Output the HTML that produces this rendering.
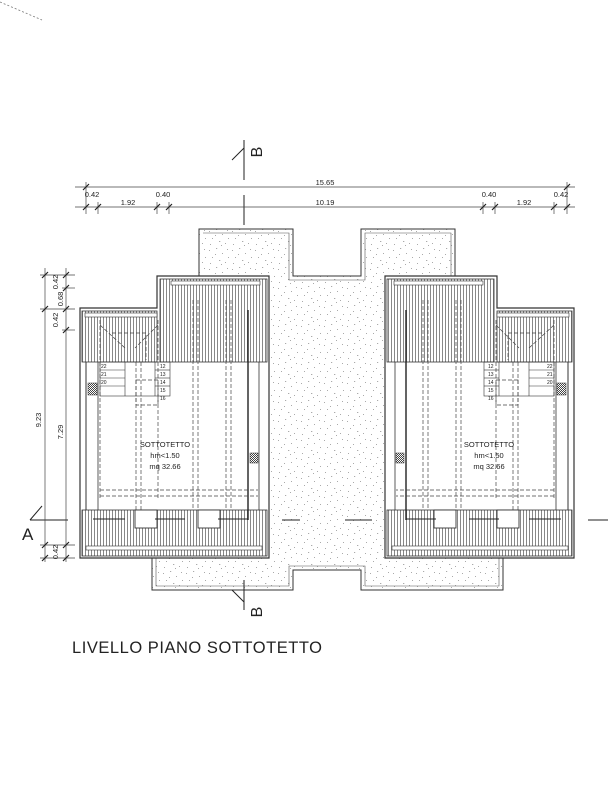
<!DOCTYPE html>
<html><head><style>
html,body{margin:0;padding:0;background:#fff}
svg{display:block}
text{font-family:"Liberation Sans",sans-serif;fill:#222}
</style></head><body>
<svg width="608" height="800" viewBox="0 0 608 800" xmlns="http://www.w3.org/2000/svg">
<defs>
<pattern id="vh" width="3" height="10" patternUnits="userSpaceOnUse"><rect width="3" height="10" fill="#fff"/><line x1="1.5" y1="0" x2="1.5" y2="10" stroke="#555" stroke-width="0.7"/></pattern>
<pattern id="st" width="23" height="19" patternUnits="userSpaceOnUse">
<rect width="23" height="19" fill="#fff"/>
<g fill="#aaa"><rect x="2" y="3" width="1" height="1"/><rect x="9" y="1" width="1.2" height="1"/><rect x="15" y="6" width="1" height="1"/><rect x="20" y="2" width="1" height="1"/><rect x="5" y="10" width="1" height="1"/><rect x="12" y="13" width="1.3" height="1"/><rect x="18" y="15" width="1" height="1"/><rect x="3" y="16" width="1" height="1"/><rect x="8" y="7" width="1" height="1"/><rect x="21" y="10" width="1" height="1"/><rect x="14" y="17" width="1" height="1"/></g>
</pattern>
<pattern id="chk" width="2" height="2" patternUnits="userSpaceOnUse"><rect width="2" height="2" fill="#fff"/><rect width="1" height="1" fill="#444"/><rect x="1" y="1" width="1" height="1" fill="#444"/></pattern>
<g id="unit">
 <path d="M80,308 H157 V276 H269 V558 H80 Z" fill="#fff" stroke="#333" stroke-width="1.2"/>
 <rect x="82" y="311" width="75" height="51" fill="url(#vh)" stroke="#333" stroke-width="0.8"/>
 <rect x="160" y="279" width="107" height="83" fill="url(#vh)" stroke="#333" stroke-width="0.8"/>
 <rect x="82" y="510" width="185" height="46" fill="url(#vh)" stroke="#333" stroke-width="0.8"/>
 <rect x="85" y="313" width="72" height="4" fill="#fff" stroke="#333" stroke-width="0.6"/>
 <rect x="171" y="281" width="89" height="4" fill="#fff" stroke="#333" stroke-width="0.6"/>
 <rect x="86" y="546" width="176" height="4" fill="#fff" stroke="#333" stroke-width="0.6"/>
 <line x1="86" y1="362" x2="86" y2="510" stroke="#333" stroke-width="1"/>
 <line x1="98" y1="362" x2="98" y2="510" stroke="#333" stroke-width="0.8"/>
 <line x1="259" y1="362" x2="259" y2="510" stroke="#333" stroke-width="0.8"/>
 <line x1="248" y1="310" x2="248" y2="520" stroke="#222" stroke-width="1.4"/>
 <g stroke="#444" stroke-width="0.7" stroke-dasharray="4,2" fill="none">
  <line x1="136" y1="362" x2="136" y2="510"/><line x1="141" y1="362" x2="141" y2="510"/>
  <line x1="193" y1="300" x2="193" y2="510"/><line x1="198" y1="300" x2="198" y2="510"/>
  <line x1="226" y1="300" x2="226" y2="510"/><line x1="231" y1="300" x2="231" y2="510"/>
  <line x1="100" y1="490" x2="258" y2="490"/><line x1="100" y1="496" x2="258" y2="496"/>
  <line x1="100" y1="320" x2="100" y2="500"/><line x1="158" y1="320" x2="158" y2="500"/>
  <path d="M100,325 L125,348 M158,325 L135,348 M112,333 H146 V360"/>
  <rect x="136" y="380" width="22" height="25"/>
 </g>
 <g stroke="#333" stroke-width="0.6" fill="none">
  <rect x="100" y="362" width="70" height="34"/>
  <line x1="100" y1="370" x2="125" y2="370"/><line x1="100" y1="378" x2="125" y2="378"/><line x1="100" y1="386" x2="125" y2="386"/>
  <line x1="125" y1="362" x2="125" y2="396"/><line x1="155" y1="362" x2="155" y2="396"/>
  <line x1="155" y1="370" x2="170" y2="370"/><line x1="155" y1="378" x2="170" y2="378"/><line x1="155" y1="386" x2="170" y2="386"/>
 </g>
 <rect x="88" y="383" width="9" height="12" fill="url(#chk)" stroke="#333" stroke-width="0.5"/>
 <rect x="250" y="453" width="8" height="10" fill="url(#chk)" stroke="#333" stroke-width="0.5"/>
 <rect x="135" y="510" width="22" height="18" fill="#fff" stroke="#333" stroke-width="0.9"/>
 <rect x="198" y="510" width="22" height="18" fill="#fff" stroke="#333" stroke-width="0.9"/>
 <g stroke="#222" stroke-width="1"><line x1="93" y1="519" x2="125" y2="519"/><line x1="155" y1="519" x2="185" y2="519"/><line x1="218" y1="519" x2="248" y2="519"/></g>
</g>
</defs>

<line x1="0" y1="2" x2="42" y2="20" stroke="#777" stroke-width="0.8" stroke-dasharray="2,2"/>

<path d="M199,229 H293 V276 H361 V229 H455 V276 H385 V530 H503 V590 H361 V570 H293 V590 H152 V530 H269 V276 H199 Z" fill="url(#st)" stroke="#333" stroke-width="1"/>
<path d="M203,233 H289 V280 H365 V233 H451 V280" fill="none" stroke="#555" stroke-width="0.6"/>
<path d="M156,535 V586 H289 V566 H365 V586 H499 V535" fill="none" stroke="#555" stroke-width="0.6"/>

<use href="#unit"/>
<use href="#unit" transform="translate(654,0) scale(-1,1)"/>

<g font-size="5">
<text x="101" y="368">22</text><text x="101" y="376">21</text><text x="101" y="384">20</text>
<text x="160" y="368">12</text><text x="160" y="376">13</text><text x="160" y="384">14</text><text x="160" y="392">15</text><text x="160" y="400">16</text>
<text x="547" y="368">22</text><text x="547" y="376">21</text><text x="547" y="384">20</text>
<text x="488" y="368">12</text><text x="488" y="376">13</text><text x="488" y="384">14</text><text x="488" y="392">15</text><text x="488" y="400">16</text>
</g>
<g font-size="7.5" text-anchor="middle">
<text x="165" y="447">SOTTOTETTO</text><text x="165" y="458">hm&lt;1.50</text><text x="165" y="469">mq 32.66</text>
<text x="489" y="447">SOTTOTETTO</text><text x="489" y="458">hm&lt;1.50</text><text x="489" y="469">mq 32.66</text>
</g>

<g stroke="#222" stroke-width="1">
<line x1="244" y1="140" x2="244" y2="180"/><line x1="244" y1="195" x2="244" y2="225"/><path d="M232,160 L244,148"/>
<line x1="244" y1="580" x2="244" y2="610"/><path d="M232,590 L244,602"/>
<line x1="30" y1="520" x2="68" y2="520"/><path d="M30,520 L42,506"/>
<line x1="282" y1="520" x2="300" y2="520"/><line x1="345" y1="520" x2="372" y2="520"/>
<line x1="588" y1="520" x2="608" y2="520"/>
</g>
<text x="262" y="152" font-size="16" transform="rotate(-90 262 152)" text-anchor="middle">B</text>
<text x="262" y="612" font-size="16" transform="rotate(-90 262 612)" text-anchor="middle">B</text>
<text x="22" y="540" font-size="17">A</text>

<g stroke="#444" stroke-width="0.7">
<line x1="75" y1="187" x2="575" y2="187"/><line x1="75" y1="207" x2="575" y2="207"/>
<line x1="86" y1="182" x2="86" y2="214"/><line x1="567" y1="182" x2="567" y2="214"/>
<line x1="98" y1="202" x2="98" y2="214"/><line x1="157" y1="202" x2="157" y2="214"/><line x1="169" y1="202" x2="169" y2="214"/>
<line x1="483" y1="202" x2="483" y2="214"/><line x1="495" y1="202" x2="495" y2="214"/><line x1="554" y1="202" x2="554" y2="214"/>
<line x1="45" y1="268" x2="45" y2="562"/><line x1="66" y1="268" x2="66" y2="562"/>
<line x1="40" y1="275" x2="75" y2="275"/><line x1="62" y1="288" x2="75" y2="288"/><line x1="40" y1="309" x2="75" y2="309"/><line x1="62" y1="330" x2="75" y2="330"/>
<line x1="40" y1="545" x2="75" y2="545"/><line x1="40" y1="558" x2="75" y2="558"/>
</g>
<g stroke="#222" stroke-width="1.2">
<path d="M83,190 l6,-6 M564,190 l6,-6 M83,210 l6,-6 M95,210 l6,-6 M154,210 l6,-6 M166,210 l6,-6 M480,210 l6,-6 M492,210 l6,-6 M551,210 l6,-6 M564,210 l6,-6"/>
<path d="M42,278 l6,-6 M63,278 l6,-6 M63,291 l6,-6 M42,312 l6,-6 M63,312 l6,-6 M63,333 l6,-6 M42,548 l6,-6 M63,548 l6,-6 M42,561 l6,-6 M63,561 l6,-6"/>
</g>
<g font-size="7.5" text-anchor="middle">
<text x="325" y="185">15.65</text><text x="325" y="205">10.19</text>
<text x="92" y="197">0.42</text><text x="128" y="205">1.92</text><text x="163" y="197">0.40</text>
<text x="489" y="197">0.40</text><text x="524" y="205">1.92</text><text x="561" y="197">0.42</text>
<text transform="translate(58,282) rotate(-90)">0.42</text>
<text transform="translate(63,299) rotate(-90)">0.68</text>
<text transform="translate(58,320) rotate(-90)">0.42</text>
<text transform="translate(41,420) rotate(-90)">9.23</text>
<text transform="translate(63,432) rotate(-90)">7.29</text>
<text transform="translate(58,552) rotate(-90)">0.42</text>
</g>

<text x="72" y="653" font-size="16.5" textLength="250" lengthAdjust="spacing" fill="#222">LIVELLO PIANO  SOTTOTETTO</text>
</svg>
</body></html>
